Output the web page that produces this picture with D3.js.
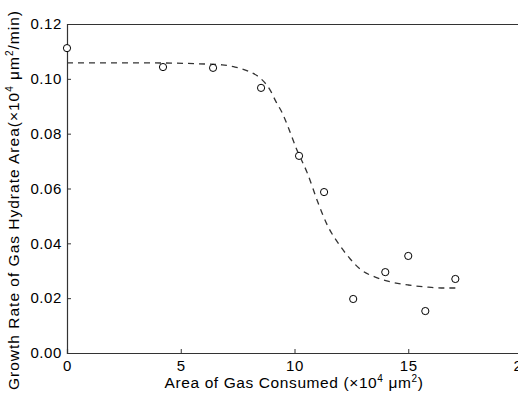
<!DOCTYPE html>
<html>
<head>
<meta charset="utf-8">
<script src="https://d3js.org/d3.v7.min.js"></script>
<style>
  body { margin: 0; background: #fff; }
  text { font-family: Arial, "Liberation Sans", sans-serif; }
</style>
</head>
<body>
<svg id="chart" width="518" height="394"></svg>
<script>
// measured points
var areaConsumed = [0, 4.22, 6.42, 8.53, 10.2, 11.3, 12.58, 13.99, 15.0, 15.75, 17.07];
var growthRate = [0.1112, 0.1043, 0.1040, 0.0967, 0.0719, 0.0587, 0.0197, 0.0295, 0.0354, 0.0153, 0.0270];

// fitted curve
var fitX = [0, 3.65, 6.07, 6.82, 7.39, 8.05, 8.49, 8.93, 9.19, 9.46, 9.72, 10.07, 10.56, 11.04, 11.48, 11.92, 12.45, 12.93, 13.55, 14.25, 15.0, 15.75, 16.45, 17.07];
var fitY = [0.1058, 0.1058, 0.1054, 0.1051, 0.1043, 0.1025, 0.1003, 0.0959, 0.0916, 0.0876, 0.0824, 0.0748, 0.0657, 0.0547, 0.0460, 0.0401, 0.0343, 0.0303, 0.0277, 0.0259, 0.0248, 0.0241, 0.0237, 0.0237];

var xTicks = [0, 5, 10, 15, 20];
var yTicks = [0, 0.02, 0.04, 0.06, 0.08, 0.10, 0.12];

var margin = {left: 67, top: 24};
var w = 455, h = 329;

var svg = d3.select("#chart");
var g = svg.append("g").attr("transform", "translate(" + margin.left + "," + margin.top + ")");

var x = d3.scaleLinear().domain([0, 20]).range([0, w]);
var y = d3.scaleLinear().domain([0, 0.12]).range([h, 0]);

// axes, ticks pointing inward
g.append("g")
  .attr("transform", "translate(0," + h + ")")
  .call(d3.axisBottom(x).tickValues(xTicks).tickSize(-4).tickPadding(7).tickFormat(d3.format("d")));
g.append("g")
  .call(d3.axisLeft(y).tickValues(yTicks).tickSize(-4).tickPadding(5).tickFormat(d3.format(".2f")));
g.append("g").call(d3.axisTop(x).tickValues([]).tickSizeOuter(0));
g.append("g").attr("transform", "translate(" + w + ",0)").call(d3.axisRight(y).tickValues([]).tickSizeOuter(0));

g.selectAll(".domain").attr("stroke", "#333").attr("stroke-width", 1.2);
g.selectAll(".tick line").attr("stroke", "#333");
g.selectAll(".tick text").attr("font-size", "15px").attr("fill", "#000")
  .attr("letter-spacing", "0.6px")
  .style("font-family", "Arial, 'Liberation Sans', sans-serif");

// dashed fit
var fit = fitX.map(function(d, i) { return [d, fitY[i]]; });
g.append("path")
  .datum(fit)
  .attr("fill", "none")
  .attr("stroke", "#333")
  .attr("stroke-width", 1.3)
  .attr("stroke-dasharray", "6,5")
  .attr("d", d3.line().curve(d3.curveMonotoneX)
    .x(function(d) { return x(d[0]); })
    .y(function(d) { return y(d[1]); }));

// points
g.selectAll("circle")
  .data(areaConsumed)
  .enter().append("circle")
  .attr("cx", function(d) { return x(d); })
  .attr("cy", function(d, i) { return y(growthRate[i]); })
  .attr("r", 3.6)
  .attr("fill", "#fff")
  .attr("stroke", "#000")
  .attr("stroke-width", 1);

// axis labels
var xl = svg.append("text")
  .attr("x", 294)
  .attr("y", 388)
  .attr("text-anchor", "middle")
  .attr("letter-spacing", "0.6px")
  .attr("font-size", "15.5px");
xl.append("tspan").text("Area of Gas Consumed (\u00d710");
xl.append("tspan").attr("font-size", "10px").attr("dy", -6).text("4");
xl.append("tspan").attr("dy", 6).text(" \u03bcm");
xl.append("tspan").attr("font-size", "10px").attr("dy", -6).text("2");
xl.append("tspan").attr("dy", 6).text(")");

var yl = svg.append("text")
  .attr("transform", "translate(19,200) rotate(-90)")
  .attr("text-anchor", "middle")
  .attr("letter-spacing", "1px")
  .attr("font-size", "15.5px");
yl.append("tspan").text("Growth Rate of Gas Hydrate Area(\u00d710");
yl.append("tspan").attr("font-size", "10px").attr("dy", -6).text("4");
yl.append("tspan").attr("dy", 6).text(" \u03bcm");
yl.append("tspan").attr("font-size", "10px").attr("dy", -6).text("2");
yl.append("tspan").attr("dy", 6).text("/min)");
</script>
</body>
</html>
